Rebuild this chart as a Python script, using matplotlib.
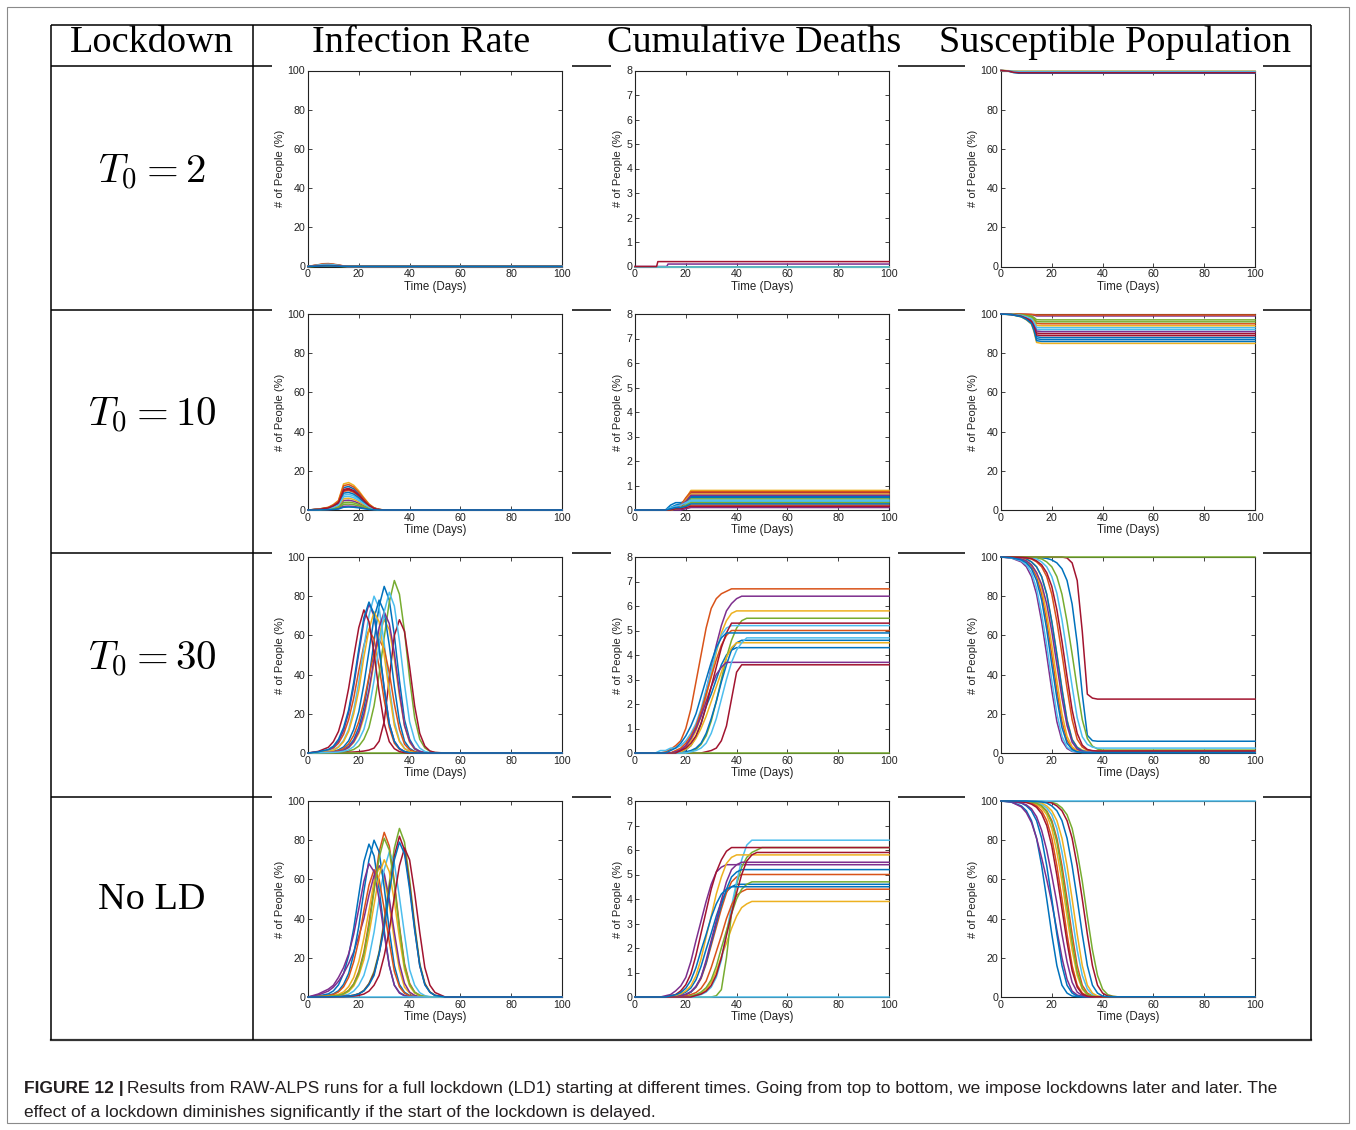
"""
Lockdown start-time comparison: infection rate, cumulative deaths and
susceptible population for repeated RAW-ALPS runs, laid out as a table.
"""

import matplotlib.pyplot as plt
from matplotlib.patches import Rectangle

plt.rcParams['font.family'] = ['Liberation Sans', 'DejaVu Sans']
plt.rcParams['mathtext.fontset'] = 'cm'

###############################################################################
# Run outputs, sampled on day grids. Each run keeps its last value to day 100.

DAYS = [0, 4, 8, 10, 12, 14, 16, 18, 20, 22, 24, 26, 28, 30, 32, 34, 36, 38,
        40, 42, 44, 46, 48, 50, 54]
DAYS_T2_INF = [0, 2, 4, 6, 8, 10, 12, 14, 16]
DAYS_T2_DEA = [0, 8.5, 9, 12.5, 13]
DAYS_T2_SUS = [0, 3, 5, 7]
DAYS_T10_DEA = [0, 12, 14, 16, 18, 20, 22]
DAYS_T10_SUS = [0, 4, 8, 10, 12, 13, 14, 16]

# lockdown at day 2
INF_T2 = [
    [0, 0.4, 0.7, 1.1, 1.2, 1.0, 0.6, 0.2, 0],
    [0, 0.5, 0.9, 1.4, 1.5, 1.2, 0.8, 0.3, 0],
    [0, 0.2, 0.5, 0.7, 0.8, 0.6, 0.4, 0.2, 0],
    [0, 0.2, 0.3, 0.45, 0.5, 0.4, 0.25, 0.1, 0],
    [0, 0.1, 0.2, 0.3, 0.3, 0.2, 0.15, 0.05, 0],
    [0, 0.3, 0.6, 0.9, 1.0, 0.8, 0.5, 0.2, 0],
    [0, 0.2, 0.4, 0.55, 0.6, 0.5, 0.3, 0.1, 0],
    [0, 0.3, 0.5, 0.8, 0.9, 0.7, 0.45, 0.2, 0],
    [0, 0.4, 0.8, 1.2, 1.3, 1.0, 0.65, 0.25, 0],
    [0, 0.1, 0.25, 0.35, 0.4, 0.3, 0.2, 0.1, 0],
    [0, 0.2, 0.4, 0.6, 0.7, 0.55, 0.35, 0.15, 0],
    [0, 0.05, 0.1, 0.2, 0.2, 0.15, 0.1, 0.05, 0],
    [0, 0.3, 0.7, 1.0, 1.1, 0.9, 0.55, 0.2, 0],
    [0, 0.15, 0.3, 0.45, 0.5, 0.4, 0.25, 0.1, 0],
    [0, 0.1, 0.2, 0.25, 0.3, 0.25, 0.15, 0.05, 0],
]
DEA_T2 = [
    [0], [0], [0],
    [0, 0, 0, 0, 0.1],
    [0], [0],
    [0, 0, 0.2],
]
SUS_T2 = [
    [100, 99.6, 98.9, 98.6],
    [100, 99.8, 99.5, 99.4],
    [100, 99.9, 99.7],
    [100, 99.7, 99.2, 99.0],
    [100, 99.8, 99.3, 99.2],
    [100, 99.8, 99.6, 99.5],
    [100, 99.7, 99.1, 98.9],
]

# lockdown at day 10
INF_T10 = [
    [0, 0.4, 1.2, 2.4, 4.2, 11.4, 12, 10.8, 8.4, 5.4, 2.6, 1, 0.2, 0],
    [0, 0.3, 1, 2, 3.5, 9.5, 10, 9, 7, 4.5, 2.2, 0.8, 0.2, 0],
    [0, 0.4, 1.4, 2.8, 4.9, 13.3, 14, 12.6, 9.8, 6.3, 3.1, 1.1, 0.3, 0],
    [0, 0.15, 0.5, 1, 1.8, 4.8, 5, 4.5, 3.5, 2.3, 1.1, 0.4, 0.1, 0],
    [0, 0.1, 0.3, 0.6, 1, 2.9, 3, 2.7, 2.1, 1.4, 0.7, 0.2, 0.1, 0],
    [0, 0.2, 0.8, 1.6, 2.8, 7.6, 8, 7.2, 5.6, 3.6, 1.8, 0.6, 0.2, 0],
    [0, 0.3, 1.1, 2.2, 3.9, 10.5, 11, 9.9, 7.7, 5, 2.4, 0.9, 0.2, 0],
    [0, 0.3, 0.9, 1.8, 3.2, 8.6, 9, 8.1, 6.3, 4, 2, 0.7, 0.2, 0],
    [0, 0.4, 1.3, 2.6, 4.6, 12.4, 13, 11.7, 9.1, 5.9, 2.9, 1, 0.3, 0],
    [0, 0.2, 0.6, 1.2, 2.1, 5.7, 6, 5.4, 4.2, 2.7, 1.3, 0.5, 0.1, 0],
    [0, 0.1, 0.2, 0.4, 0.7, 1.9, 2, 1.8, 1.4, 0.9, 0.4, 0.2, 0],
    [0, 0.1, 0.4, 0.8, 1.4, 3.8, 4, 3.6, 2.8, 1.8, 0.9, 0.3, 0.1, 0],
    [0, 0.2, 0.7, 1.4, 2.5, 6.7, 7, 6.3, 4.9, 3.2, 1.5, 0.6, 0.1, 0],
    [0, 0.3, 1, 2.1, 3.7, 10, 10.5, 9.5, 7.4, 4.7, 2.3, 0.8, 0.2, 0],
    [0, 0, 0.2, 0.3, 0.5, 1.4, 1.5, 1.4, 1.1, 0.7, 0.3, 0.1, 0],
]
DEA_T10 = [
    [0, 0, 0.2, 0.3, 0.3, 0.35, 0.5],
    [0, 0, 0, 0.05, 0.1, 0.15, 0.2],
    [0, 0, 0.05, 0.1, 0.2, 0.45, 0.8],
    [0, 0, 0, 0, 0, 0.05, 0.1],
    [0, 0, 0.05, 0.1, 0.15, 0.3, 0.45],
    [0, 0, 0.1, 0.15, 0.2, 0.25, 0.35],
    [0, 0, 0.05, 0.1, 0.1, 0.35, 0.7],
    [0, 0, 0.1, 0.2, 0.25, 0.4, 0.55],
    [0, 0, 0.05, 0.1, 0.2, 0.5, 0.75],
    [0, 0, 0, 0.05, 0.15, 0.4, 0.65],
    [0, 0, 0.05, 0.1, 0.2, 0.35, 0.6],
    [0, 0, 0, 0.05, 0.1, 0.2, 0.3],
    [0, 0, 0.1, 0.15, 0.2, 0.3, 0.4],
    [0, 0, 0, 0.05, 0.05, 0.1, 0.15],
    [0, 0, 0.05, 0.1, 0.1, 0.15, 0.25],
]
SUS_T10 = [
    [100, 99.7, 98.7, 97.4, 95.5, 92.2, 87.4, 87],
    [100, 99.9, 99.5, 99, 98.3, 97, 95.2, 95],
    [100, 99.7, 98.5, 97, 94.8, 91, 85.5, 85],
    [100, 100, 99.9, 99.8, 99.7, 99.4, 99, 99],
    [100, 99.9, 99.7, 99.4, 99, 98.2, 97.1, 97],
    [100, 99.8, 99.2, 98.4, 97.2, 95.2, 92.2, 92],
    [100, 99.8, 99, 98, 96.5, 94, 90.3, 90],
    [100, 99.8, 98.8, 97.6, 95.8, 92.8, 88.4, 88],
    [100, 100, 100, 99.9, 99.8, 99.7, 99.5, 99.5],
    [100, 99.9, 99.4, 98.8, 97.9, 96.4, 94.2, 94],
    [100, 99.8, 99.1, 98.2, 96.9, 94.6, 91.3, 91],
    [100, 99.9, 99.6, 99.2, 98.6, 97.6, 96.1, 96],
    [100, 99.9, 99.3, 98.6, 97.6, 95.8, 93.2, 93],
    [100, 99.8, 98.9, 97.8, 96.2, 93.4, 89.3, 89],
    [100, 99.7, 98.6, 97.2, 95.1, 91.6, 86.4, 86],
]

# lockdown at day 30
INF_T30 = [
    [0, 0.2, 0.3, 0.5, 0.9, 1.7, 3.4, 6.8, 13, 23, 38, 57, 75, 85, 78, 60,
     37, 17, 7, 2.5, 0.9, 0.3, 0],
    [0, 0.4, 1.3, 2.5, 5, 9.5, 17, 28, 42, 55, 63, 58, 44, 27, 13, 5, 1.9,
     0.6, 0.2, 0],
    [0, 0.1, 0.3, 0.4, 0.7, 1.4, 2.7, 5.4, 10, 18, 31, 46, 60, 68, 63, 48,
     29, 14, 5.4, 2, 0.7, 0.2, 0],
    [0, 0.5, 1.5, 3, 6, 11.4, 20.5, 34, 51, 67, 76, 70, 53, 33, 15, 6, 2.3,
     0.8, 0.2, 0],
    [0, 0, 0.2, 0.3, 0.35, 0.5, 1, 1.8, 3.5, 7, 13, 24, 40, 59, 77, 88, 81,
     62, 38, 18, 7, 2.6, 0.9, 0.2, 0],
    [0, 0.3, 0.9, 1.6, 3.2, 6.4, 12, 22, 36, 54, 70, 80, 74, 56, 34, 16,
     6.4, 2.4, 0.8, 0.2, 0],
    [0, 0, 0, 0.1, 0.2, 0.3, 0.4, 0.5, 0.7, 1, 1.5, 2.5, 6, 16, 38, 60, 68,
     62, 44, 24, 10, 3.5, 1, 0.3, 0],
    [0, 0.2, 0.5, 0.9, 1.6, 3.1, 6.2, 12, 21, 35, 52, 69, 78, 72, 55, 34, 16,
     6, 2.3, 0.8, 0.2, 0],
    [0, 0.1, 0.4, 0.7, 1.2, 2.3, 4.6, 9, 16, 26, 39, 51, 58, 53, 41, 25, 12,
     4.5, 1.7, 0.6, 0.1, 0],
    [0, 0.3, 0.8, 1.4, 2.9, 5.8, 11, 20, 32, 49, 63, 72, 67, 50, 31, 14, 5.8,
     2.2, 0.7, 0.2, 0],
    [0, 0.2, 0.3, 0.4, 0.8, 1.4, 2.9, 5.8, 11, 20, 32, 48, 64, 72, 66, 51,
     31, 14, 6, 2.1, 0.8, 0.3, 0],
    [0],
    [0, 0.1, 0.25, 0.3, 0.5, 0.9, 1.6, 3.3, 6.6, 12, 22, 37, 55, 72, 82, 75,
     57, 35, 16, 6.6, 2.5, 0.8, 0.2, 0],
    [0, 0.8, 2.9, 5.8, 11, 20, 33, 49, 64, 73, 67, 51, 31, 15, 5.8, 2.2, 0.7,
     0.2, 0],
    [0, 0.6, 1.8, 3.5, 7, 13, 22, 36, 53, 69, 77, 71, 54, 33, 15, 6, 2.2,
     0.7, 0.2, 0],
]
DEA_T30 = [
    [0, 0, 0, 0, 0, 0, 0, 0.04, 0.13, 0.3, 0.65, 1.2, 1.9, 2.4, 3.0, 3.6,
     4.0, 4.2, 4.3],
    [0, 0, 0, 0, 0.05, 0.15, 0.3, 0.5, 1.0, 1.8, 2.9, 4.0, 5.1, 5.9, 6.3,
     6.5, 6.6, 6.7],
    [0, 0, 0, 0, 0, 0, 0.05, 0.1, 0.25, 0.5, 0.9, 1.5, 2.3, 3.2, 4.1, 4.9,
     5.4, 5.7, 5.8],
    [0, 0, 0, 0, 0, 0, 0.05, 0.15, 0.3, 0.6, 1.0, 1.6, 2.5, 3.5, 4.4, 5.2,
     5.8, 6.1, 6.3, 6.4],
    [0, 0, 0, 0, 0, 0, 0, 0, 0, 0.05, 0.15, 0.35, 0.7, 1.3, 2.1, 3.0, 3.9,
     4.6, 5.1, 5.4, 5.5],
    [0, 0, 0, 0.1, 0.1, 0.2, 0.2, 0.3, 0.5, 0.8, 1.2, 1.8, 2.6, 3.4, 4.2,
     4.8, 5.1, 5.2],
    [0, 0, 0, 0, 0, 0, 0, 0, 0, 0, 0, 0, 0.05, 0.1, 0.2, 0.5, 1.1, 2.2, 3.3,
     3.6],
    [0, 0, 0, 0, 0, 0, 0, 0, 0.05, 0.1, 0.2, 0.4, 0.8, 1.4, 2.1, 2.9, 3.6,
     4.2, 4.5, 4.6],
    [0, 0, 0, 0, 0, 0, 0.1, 0.2, 0.4, 0.7, 1.1, 1.7, 2.4, 3.1, 3.8, 4.4,
     4.8, 5.0],
    [0, 0, 0, 0, 0, 0, 0, 0.05, 0.15, 0.3, 0.6, 1.0, 1.5, 2.1, 2.7, 3.3, 3.9,
     4.3, 4.5],
    [0, 0, 0, 0, 0, 0, 0.05, 0.1, 0.3, 0.6, 1.0, 1.5, 2.1, 2.7, 3.2, 3.5,
     3.7],
    [0],
    [0, 0, 0, 0, 0, 0, 0, 0, 0, 0.05, 0.1, 0.2, 0.4, 0.8, 1.4, 2.2, 3.0,
     3.7, 4.2, 4.5, 4.7],
    [0, 0, 0, 0, 0, 0, 0, 0.1, 0.2, 0.4, 0.7, 1.2, 1.9, 2.7, 3.5, 4.3, 4.9,
     5.3],
    [0, 0, 0, 0, 0, 0.1, 0.2, 0.4, 0.7, 1.1, 1.6, 2.3, 3.0, 3.7, 4.3, 4.7,
     4.9],
]
SUS_T30 = [
    [100, 100, 100, 100, 99.9, 99.8, 99.6, 99.3, 98.5, 97, 94, 88, 76, 56,
     30, 9, 6.3, 6],
    [100, 99.7, 99, 97.5, 95, 90, 81, 67, 50, 32, 16, 6.5, 2.5, 1, 0.5],
    [100, 99.8, 99.5, 99, 97.5, 95, 90, 81, 67, 50.5, 33, 17, 7, 3, 1.5, 1],
    [100, 99.5, 97.5, 95, 90, 81, 67, 50, 32, 16, 6.3, 2.3, 0.8, 0.4, 0.3],
    [100, 100, 99.9, 99.8, 99.7, 99.5, 99, 97.5, 95, 90, 81, 67, 50.5, 33,
     17, 7.4, 3.5, 2, 1.5],
    [100, 100, 99.8, 99.7, 99.5, 99, 97.5, 95, 90, 81.5, 68, 51, 34, 18, 8.3,
     4.4, 3, 2.5],
    [100, 100, 100, 100, 100, 100, 100, 100, 100, 100, 100, 99.5, 97, 88, 62,
     30, 28, 27.5],
    [100, 99.8, 99.5, 99, 97.5, 95, 90, 81, 67, 50, 32.5, 16.5, 6.8, 2.8,
     1.1, 0.6, 0.5],
    [100, 99.9, 99.7, 99.5, 99, 97.5, 95, 90, 81, 67, 50.5, 33, 17, 7, 3,
     1.5, 1],
    [100, 99.8, 99.2, 98, 96, 92, 84, 71, 55, 37, 20, 8.5, 3.2, 1.2, 0.6,
     0.5],
    [100, 99.6, 99, 98, 96, 92, 86, 76, 62, 45, 28, 14, 5.5, 2, 0.8, 0.5],
    [100],
    [100, 99.6, 98, 96, 92, 84, 71, 55, 37, 20, 8.5, 3, 1, 0.5, 0.3],
    [100, 100, 99.8, 99.6, 99.2, 98, 96, 92, 85, 73, 57, 39, 22, 10, 4, 1.8,
     1.2, 1],
    [100, 99.7, 98.5, 97, 94, 88, 78, 63, 45, 28, 13, 5, 1.8, 0.6, 0.3, 0.2],
]

# no lockdown
INF_NOLD = [
    [0, 0.5, 1.6, 3.1, 6.2, 12, 21, 35, 52, 69, 78, 72, 55, 34, 16, 6, 2.3,
     0.8, 0.2, 0],
    [0, 0.2, 0.3, 0.5, 0.9, 1.7, 3.4, 6.7, 13, 23, 38, 56, 74, 84, 77, 59,
     36, 17, 7, 2.5, 0.9, 0.3, 0],
    [0, 0.2, 0.4, 0.8, 1.4, 2.6, 5.3, 10, 18, 30, 44, 59, 66, 61, 47, 29, 14,
     5, 2, 0.7, 0.2, 0],
    [0, 1, 3, 5, 8, 12, 17, 23, 31, 40, 52, 62, 67, 63, 50, 33, 17, 7, 2.5,
     0.8, 0.2, 0],
    [0, 0, 0.1, 0.2, 0.25, 0.35, 0.5, 0.9, 1.7, 3.4, 6.9, 13, 23, 39, 58, 76,
     86, 79, 60, 37, 17, 7, 2.6, 0.9, 0],
    [0, 0.1, 0.2, 0.3, 0.5, 0.8, 1.4, 3, 6, 11, 20, 33, 50, 65, 74, 68, 51,
     32, 14, 6, 2.2, 0.7, 0.2, 0],
    [0, 0, 0.1, 0.2, 0.25, 0.35, 0.5, 0.9, 1.6, 3.2, 6.6, 12, 22, 37, 55, 72,
     82, 75, 57, 35, 16, 6.6, 2.5, 0.8, 0],
    [0, 0.3, 0.9, 1.6, 3.2, 6.4, 12, 22, 36, 54, 70, 80, 74, 56, 34, 16, 6.4,
     2.4, 0.8, 0.2, 0],
    [0, 0.2, 0.7, 1.3, 2.6, 5.2, 10, 18, 29, 44, 57, 65, 60, 45, 28, 13, 5.2,
     1.9, 0.6, 0.2, 0],
    [0, 0.2, 0.3, 0.4, 0.7, 1.4, 2.8, 5.6, 11, 19, 32, 47, 62, 70, 64, 49,
     30, 14, 5.6, 2, 0.7, 0.2, 0],
    [0, 1.5, 4, 6, 10, 15, 22, 32, 45, 59, 68, 64, 50, 32, 16, 6, 2, 0.6,
     0.1, 0],
    [0, 0.2, 0.3, 0.5, 0.9, 1.6, 3.2, 6.5, 12, 22, 36, 54, 71, 81, 75, 57,
     35, 16, 6.5, 2.4, 0.8, 0.2, 0],
    [0],
    [0, 0, 0, 0.1, 0.15, 0.2, 0.3, 0.5, 0.8, 1.5, 3, 6, 11, 21, 34, 51, 67,
     76, 70, 53, 33, 15, 6, 2.3, 0],
    [0, 0, 0.1, 0.15, 0.2, 0.3, 0.5, 0.8, 1.6, 3.1, 6.2, 11, 22, 35, 53, 70,
     79, 73, 55, 34, 16, 6.2, 2.4, 0.8, 0],
]
DEA_NOLD = [
    [0, 0, 0, 0, 0, 0, 0.05, 0.1, 0.2, 0.37, 0.7, 1.25, 1.95, 2.6, 3.3, 3.9,
     4.3, 4.5, 4.6],
    [0, 0, 0, 0, 0, 0, 0, 0.05, 0.1, 0.2, 0.4, 0.75, 1.35, 2.1, 2.85, 3.6,
     4.25, 4.7, 4.9, 5.0],
    [0, 0, 0, 0, 0, 0, 0, 0, 0, 0.04, 0.08, 0.16, 0.3, 0.6, 1.05, 1.65, 2.2,
     2.8, 3.3, 3.65, 3.8, 3.9],
    [0, 0, 0, 0, 0.05, 0.1, 0.25, 0.45, 0.8, 1.45, 2.3, 3.1, 3.9, 4.6, 5.1,
     5.3, 5.4],
    [0, 0, 0, 0, 0, 0, 0, 0, 0, 0, 0, 0, 0, 0, 0.05, 0.3, 1.6, 3.4, 4.6, 5.3,
     5.7, 5.9, 6.0, 6.1],
    [0, 0, 0, 0, 0, 0, 0, 0, 0, 0, 0.05, 0.1, 0.2, 0.4, 0.8, 1.5, 2.6, 3.7,
     4.7, 5.6, 6.2, 6.4],
    [0, 0, 0, 0, 0, 0.05, 0.1, 0.25, 0.5, 0.95, 1.7, 2.6, 3.5, 4.4, 5.1, 5.6,
     5.95, 6.1],
    [0, 0, 0, 0, 0, 0, 0, 0.05, 0.1, 0.2, 0.42, 0.8, 1.4, 2.2, 3.0, 3.75,
     4.4, 4.9, 5.1, 5.2],
    [0, 0, 0, 0, 0, 0, 0, 0, 0.05, 0.1, 0.18, 0.35, 0.65, 1.2, 1.85, 2.5,
     3.2, 3.75, 4.15, 4.3, 4.4],
    [0, 0, 0, 0, 0, 0, 0.06, 0.12, 0.25, 0.46, 0.87, 1.55, 2.45, 3.3, 4.2,
     4.9, 5.45, 5.7, 5.8],
    [0, 0, 0, 0, 0, 0, 0, 0.05, 0.11, 0.22, 0.44, 0.8, 1.5, 2.3, 3.1, 3.95,
     4.7, 5.2, 5.4, 5.5],
    [0, 0, 0, 0, 0, 0, 0, 0, 0, 0.05, 0.1, 0.2, 0.38, 0.7, 1.25, 2.0, 2.7,
     3.4, 4.0, 4.4, 4.6, 4.7],
    [0],
    [0, 0, 0, 0, 0, 0, 0, 0, 0, 0, 0.06, 0.12, 0.24, 0.47, 0.9, 1.6, 2.5,
     3.4, 4.25, 5.0, 5.55, 5.8, 5.9],
    [0, 0, 0, 0, 0, 0.05, 0.09, 0.18, 0.36, 0.68, 1.2, 1.9, 2.55, 3.25, 3.8,
     4.2, 4.4, 4.5],
]
SUS_NOLD = [
    [100, 99.5, 97.5, 95, 90, 81, 67, 50, 32, 16, 6, 2, 0.5, 0.2, 0.1],
    [100, 100, 99.8, 99.7, 99.5, 99, 97.5, 95, 90, 81, 67, 50, 32, 16, 6, 2,
     0.5, 0.2, 0.1],
    [100, 100, 99.7, 99.6, 99.2, 98.3, 96.5, 93, 86, 74, 59, 41, 24, 11, 4,
     1.2, 0.4, 0.1],
    [100, 99.5, 97, 94, 89, 81, 71, 60, 48, 34, 20, 9, 3, 1, 0.3, 0.1],
    [100, 100, 100, 100, 100, 99.9, 99.8, 99.6, 99.3, 98.5, 96.5, 93, 86, 74,
     59, 41, 24, 11, 4, 1.2, 0.4, 0.1],
    [100, 100, 100, 99.7, 99.6, 99.2, 98.3, 96.5, 93, 86, 74, 59, 41, 24, 11,
     4, 1.2, 0.4, 0.1],
    [100, 100, 100, 100, 100, 99.8, 99.7, 99.5, 99, 97.5, 95, 90, 81, 67, 50,
     32, 16, 6, 2, 0.5, 0.2, 0.1],
    [100, 99.7, 99, 97.5, 95, 90, 81, 67, 50, 32, 16, 6, 2, 0.5, 0.2, 0.1],
    [100, 100, 99.7, 99.5, 99, 97.5, 95, 90, 81, 67, 50, 32, 16, 6, 2, 0.5,
     0.2, 0.1],
    [100, 100, 100, 99.8, 99.7, 99.5, 99, 97.5, 95, 90, 81, 67, 50, 32, 16,
     6, 2, 0.5, 0.2, 0.1],
    [100, 99.8, 99, 98, 96, 92, 85, 75, 62, 48, 32, 18, 7.5, 2.5, 0.8, 0.2,
     0.1],
    [100, 100, 99.9, 99.8, 99.5, 98.8, 97.5, 94.5, 89, 79, 64, 46, 28, 13,
     4.5, 1.3, 0.4, 0.1],
    [100],
    [100, 99.9, 99.6, 99.2, 98.4, 96.8, 93.5, 87.5, 77, 62, 45, 28, 13.5, 5,
     1.5, 0.4, 0.1],
    [100, 100, 100, 100, 99.8, 99.7, 99.5, 99, 97.5, 95, 90, 81, 67, 50, 32,
     16, 6, 2, 0.5, 0.2, 0.1],
]

HEADERS = ['Lockdown', 'Infection Rate', 'Cumulative Deaths',
           'Susceptible Population']
ROW_LABELS = [r'$T_0 = 2$', r'$T_0 = 10$', r'$T_0 = 30$', 'No LD']
CAPTION_HEAD = 'FIGURE 12 |'
CAPTION_1 = ('Results from RAW-ALPS runs for a full lockdown (LD1) starting at '
             'different times. Going from top to bottom, we impose lockdowns '
             'later and later. The')
CAPTION_2 = ('effect of a lockdown diminishes significantly if the start of '
             'the lockdown is delayed.')

PANELS = [
    [(DAYS_T2_INF, INF_T2), (DAYS_T2_DEA, DEA_T2), (DAYS_T2_SUS, SUS_T2)],
    [(DAYS, INF_T10), (DAYS_T10_DEA, DEA_T10), (DAYS_T10_SUS, SUS_T10)],
    [(DAYS, INF_T30), (DAYS, DEA_T30), (DAYS, SUS_T30)],
    [(DAYS, INF_NOLD), (DAYS, DEA_NOLD), (DAYS, SUS_NOLD)],
]

# MATLAB default line order
COLORS = ['#0072BD', '#D95319', '#EDB120', '#7E2F8E', '#77AC30', '#4DBEEE',
          '#A2142F']

###############################################################################
# Page layout in pixels

W, H = 1356, 1130
fig = plt.figure(figsize=(W / 100, H / 100), dpi=100)

page = fig.add_axes([0, 0, 1, 1])
page.set_xlim(0, W)
page.set_ylim(H, 0)
page.axis('off')


def box(x0, y0, x1, y1):
    return [x0 / W, 1 - y1 / H, (x1 - x0) / W, (y1 - y0) / H]


# faint page frame
page.add_patch(Rectangle((7, 7), 1342, 1116, fill=False, ec='#8a8a8a',
                         lw=0.8))

# table rules
rule = dict(color='black', lw=1.1, solid_capstyle='butt')
TL, TR, TT, TB, DIV = 51, 1311, 25, 1040, 253
page.plot([TL, TR], [TT, TT], **rule)
page.plot([TL, TR], [TB, TB], color='#333333', lw=1.6)
for x in (TL, DIV, TR):
    page.plot([x, x], [TT, TB], **rule)
gaps = [(TL, 272), (572, 611), (898, 965), (1263, TR)]
for y in (66, 310, 553, 797):
    for x0, x1 in gaps:
        page.plot([x0, x1], [y, y], **rule)

serif = ['Liberation Serif', 'DejaVu Serif']
for cx, label in zip([152, 421, 754, 1115], HEADERS):
    page.text(cx, 43, label, ha='center', va='center', fontsize=27.5,
              family=serif)
for cy, label in zip([172, 415, 659, 900], ROW_LABELS):
    size = 27.5 if label.startswith('No') else 29.5
    page.text(152, cy, label, ha='center', va='center', fontsize=size,
              family=serif)

###############################################################################
# Run panels

COL_X = [(308, 562), (635, 889), (1001, 1255)]
ROW_TOP = [70.5, 314, 557, 801]
AX_H = 196

for r, row in enumerate(PANELS):
    for c, (days, runs) in enumerate(row):
        x0, x1 = COL_X[c]
        ax = fig.add_axes(box(x0, ROW_TOP[r], x1, ROW_TOP[r] + AX_H))
        for i, vals in enumerate(runs):
            xs = list(days[:len(vals)]) + [100]
            ys = list(vals) + [vals[-1]]
            ax.plot(xs, ys, color=COLORS[i % len(COLORS)], lw=1.1,
                    clip_on=False, zorder=3)
        ax.set_xlim(0, 100)
        ax.set_xticks(range(0, 101, 20))
        if c == 1:
            ax.set_ylim(0, 8)
            ax.set_yticks(range(0, 9))
        else:
            ax.set_ylim(0, 100)
            ax.set_yticks(range(0, 101, 20))
        ax.tick_params(direction='in', top=True, right=True, length=3,
                       width=0.6, labelsize=7.7, pad=2, colors='#222222')
        for s in ax.spines.values():
            s.set_linewidth(0.8)
            s.set_color('#222222')
        ax.set_xlabel('Time (Days)', fontsize=8.3, labelpad=1,
                      color='#222222')
        ax.set_ylabel('# of People (%)', fontsize=8, labelpad=2,
                      color='#222222')

###############################################################################
# Caption

renderer = fig.canvas.get_renderer()
head = page.text(24, 1089, CAPTION_HEAD, fontsize=12.5, fontweight='bold',
                 ha='left', va='center', color='#231f20')
ext = head.get_window_extent(renderer=renderer)
page.text(ext.x1 + 3, 1089, CAPTION_1, fontsize=12.5, ha='left',
          va='center', color='#231f20')
page.text(24, 1113, CAPTION_2, fontsize=12.5, ha='left', va='center',
          color='#231f20')

fig.savefig('out.png', dpi=100)
